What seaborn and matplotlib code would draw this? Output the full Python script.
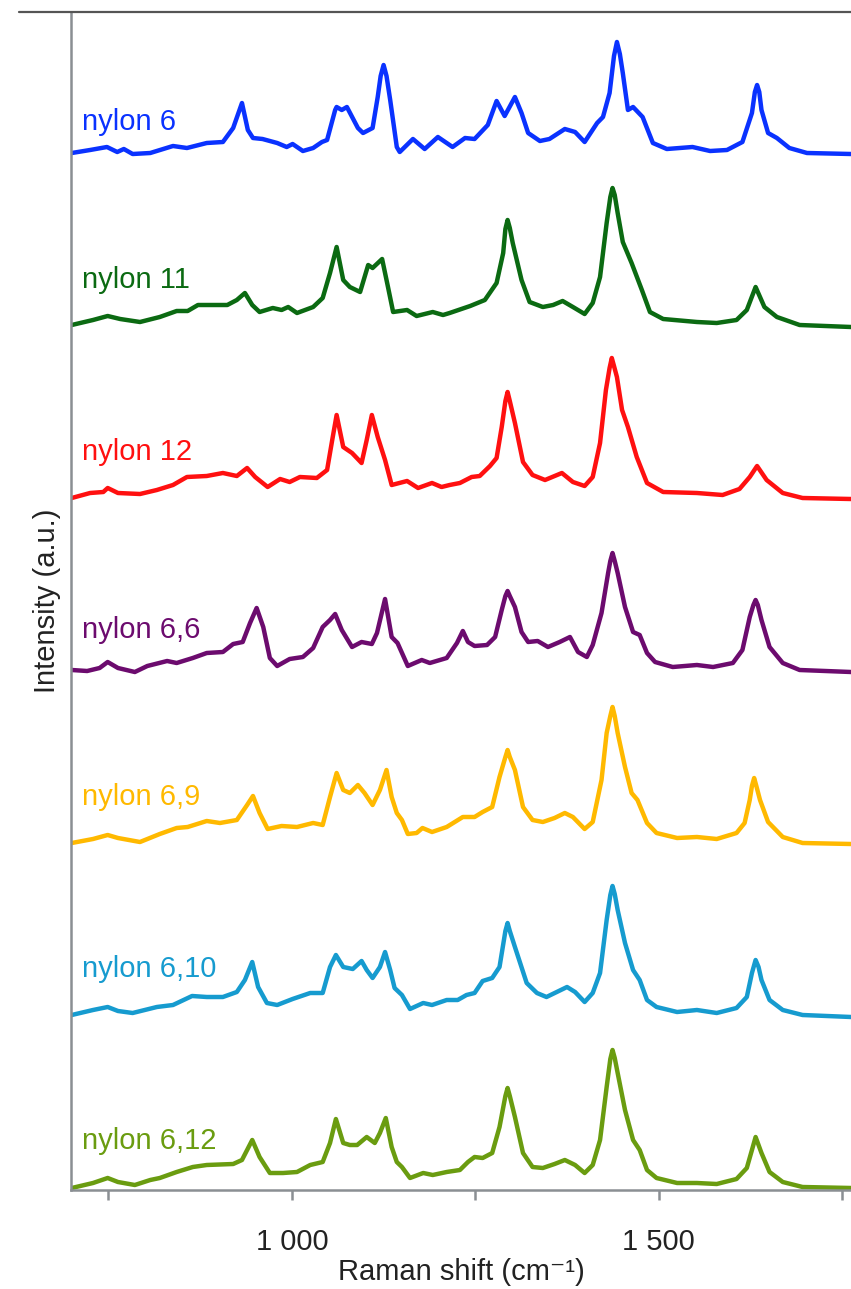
import matplotlib
matplotlib.use("Agg")
import matplotlib.pyplot as plt
from matplotlib.lines import Line2D
from matplotlib.ticker import FixedLocator, NullFormatter
import pandas as pd
import seaborn as sns

# Raman spectra (shift in cm-1, intensity in a.u.)
nylon6_shift = [700, 725, 748, 762, 771, 783, 807, 838, 857, 884, 906, 920, 932, 940, 947, 960,
                980, 993, 1001, 1015, 1029, 1041, 1048, 1059, 1061, 1068, 1075, 1090, 1097, 1110,
                1117, 1121, 1125, 1129, 1134, 1143, 1147, 1165, 1181, 1199, 1219, 1236, 1249, 1267,
                1279, 1290, 1304, 1313, 1322, 1338, 1351, 1372, 1386, 1399, 1416, 1424, 1433,
                1439, 1443, 1447, 1451, 1458, 1465, 1478, 1492, 1511, 1546, 1570, 1593, 1614,
                1627, 1631, 1634, 1637, 1640, 1649, 1661, 1678, 1702, 1762]
nylon6_int = [1, 4, 7, 2, 5, 0, 1, 8, 6, 11, 12, 26, 51, 24, 16, 15,
              11, 7, 10, 3, 6, 12, 14, 44, 47, 44, 47, 26, 21, 26,
              57, 78, 89, 78, 54, 7, 2, 15, 5, 17, 7, 16, 15, 29,
              53, 38, 57, 41, 21, 13, 15, 25, 22, 12, 31, 37, 61,
              98, 112, 100, 81, 44, 47, 37, 11, 5, 7, 3, 4, 12,
              41, 62, 69, 62, 44, 21, 16, 6, 1, 0]

nylon11_shift = [700, 729, 749, 766, 793, 820, 843, 858, 872, 912, 925, 936, 946, 956, 974, 986,
                 995, 1007, 1029, 1042, 1052, 1061, 1070, 1079, 1093, 1104, 1110, 1123, 1131,
                 1138, 1157, 1170, 1192, 1206, 1215, 1243, 1263, 1279, 1288, 1291, 1294, 1297,
                 1301, 1313, 1324, 1342, 1356, 1369, 1383, 1399, 1410, 1420, 1429, 1434, 1437,
                 1440, 1444, 1451, 1463, 1477, 1488, 1506, 1552, 1579, 1606, 1620, 1632, 1644,
                 1661, 1692, 1762]
nylon11_int = [2, 7, 11, 8, 5, 10, 16, 16, 22, 22, 27, 34, 22, 15, 19, 17,
               20, 14, 20, 29, 54, 80, 47, 40, 35, 62, 59, 68, 40,
               15, 17, 11, 15, 12, 14, 21, 27, 44, 74, 98, 107, 99,
               84, 47, 25, 20, 22, 26, 20, 13, 24, 50, 104, 130, 139,
               132, 114, 85, 64, 37, 15, 8, 5, 4, 7, 17, 40, 20,
               10, 2, 0]

nylon12_shift = [700, 725, 743, 749, 763, 793, 816, 838, 857, 884, 906, 925, 939, 950, 967, 984,
                 997, 1011, 1034, 1048, 1055, 1061, 1070, 1082, 1095, 1102, 1109, 1117, 1127,
                 1136, 1157, 1172, 1191, 1204, 1215, 1229, 1245, 1256, 1270, 1279, 1286, 1291,
                 1294, 1297, 1304, 1315, 1328, 1345, 1368, 1383, 1399, 1410, 1420, 1428, 1433,
                 1436, 1439, 1443, 1450, 1458, 1470, 1484, 1506, 1552, 1587, 1610, 1624, 1634,
                 1647, 1669, 1696, 1762]
nylon12_int = [1, 6, 7, 11, 6, 5, 9, 14, 22, 23, 26, 23, 31, 22, 12, 20,
               17, 22, 21, 29, 59, 84, 52, 46, 36, 59, 84, 62, 39,
               14, 18, 11, 16, 12, 14, 16, 22, 23, 33, 41, 72, 98,
               107, 98, 76, 37, 24, 19, 26, 17, 13, 22, 56, 109, 131,
               141, 133, 122, 89, 72, 42, 16, 7, 6, 4, 10, 22, 33,
               19, 6, 1, 0]

nylon66_shift = [700, 721, 738, 749, 763, 786, 803, 830, 843, 865, 884, 906, 920, 933, 943, 952,
                 961, 970, 980, 997, 1015, 1029, 1042, 1052, 1059, 1068, 1082, 1095, 1109, 1116,
                 1127, 1136, 1144, 1158, 1177, 1188, 1211, 1225, 1233, 1240, 1249, 1266, 1277,
                 1286, 1291, 1294, 1297, 1304, 1313, 1322, 1335, 1349, 1365, 1379, 1390, 1402,
                 1410, 1422, 1431, 1434, 1437, 1440, 1444, 1454, 1465, 1474, 1484, 1495, 1519,
                 1552, 1574, 1601, 1614, 1624, 1629, 1632, 1635, 1640, 1651, 1669, 1692, 1762]
nylon66_int = [2, 1, 4, 10, 4, 0, 6, 11, 9, 14, 19, 20, 28, 30, 49, 64,
               45, 14, 6, 13, 15, 24, 45, 52, 58, 42, 25, 30, 28, 39,
               73, 35, 29, 6, 12, 9, 14, 29, 41, 30, 26, 27, 35,
               62, 76, 81, 76, 65, 40, 30, 31, 25, 30, 35, 20, 15,
               27, 59, 99, 111, 119, 111, 99, 65, 40, 37, 19, 10, 5,
               7, 5, 9, 22, 55, 67, 72, 67, 52, 25, 9, 2, 0]

nylon69_shift = [700, 729, 749, 763, 793, 820, 843, 858, 884, 902, 925, 939, 947, 956, 967, 986,
                 1007, 1029, 1042, 1052, 1061, 1070, 1079, 1090, 1099, 1110, 1120, 1129, 1136,
                 1143, 1150, 1158, 1170, 1178, 1191, 1211, 1233, 1249, 1260, 1273, 1283, 1291,
                 1294, 1297, 1304, 1315, 1328, 1342, 1358, 1372, 1383, 1399, 1410, 1422, 1429,
                 1434, 1437, 1440, 1444, 1454, 1463, 1471, 1484, 1497, 1525, 1552, 1579, 1606,
                 1617, 1624, 1627, 1630, 1633, 1638, 1649, 1669, 1696, 1762]
nylon69_int = [1, 5, 9, 6, 2, 10, 16, 17, 23, 21, 24, 39, 48, 31, 15, 18,
               17, 21, 19, 47, 71, 54, 51, 59, 51, 39, 54, 74, 47,
               31, 24, 10, 11, 16, 12, 17, 27, 27, 32, 37, 67, 87,
               94, 87, 74, 37, 24, 22, 26, 31, 27, 15, 22, 64, 111,
               128, 137, 128, 111, 77, 51, 44, 21, 11, 6, 7, 5, 11,
               21, 44, 58, 66, 58, 44, 22, 7, 1, 0]

nylon610_shift = [700, 729, 749, 763, 783, 816, 838, 864, 884, 906, 925, 936, 946, 954, 966, 980,
                  1001, 1025, 1042, 1052, 1060, 1070, 1083, 1095, 1102, 1110, 1120, 1127, 1134,
                  1140, 1150, 1161, 1179, 1191, 1211, 1226, 1238, 1249, 1260, 1273, 1283, 1291,
                  1294, 1297, 1304, 1320, 1334, 1347, 1361, 1375, 1386, 1399, 1410, 1420, 1429,
                  1434, 1437, 1440, 1444, 1454, 1465, 1474, 1484, 1497, 1525, 1552, 1579, 1606,
                  1620, 1627, 1632, 1636, 1640, 1651, 1669, 1696, 1762]
nylon610_int = [2, 7, 10, 6, 4, 10, 12, 21, 20, 20, 25, 37, 55, 30, 14, 12,
                18, 24, 24, 50, 62, 50, 48, 56, 47, 39, 50, 65, 47,
                29, 22, 8, 14, 12, 17, 17, 22, 24, 36, 39, 50, 86,
                94, 86, 70, 34, 24, 20, 25, 30, 25, 15, 24, 44, 97,
                122, 131, 123, 107, 74, 47, 37, 17, 10, 5, 7, 4, 9,
                20, 44, 57, 50, 37, 17, 7, 2, 0]

nylon612_shift = [700, 729, 749, 763, 786, 807, 820, 843, 865, 884, 920, 932, 939, 946, 956, 970,
                  988, 1007, 1025, 1042, 1052, 1060, 1070, 1079, 1089, 1102, 1113, 1120, 1128,
                  1136, 1143, 1150, 1161, 1179, 1192, 1211, 1229, 1240, 1249, 1260, 1273, 1283,
                  1291, 1294, 1297, 1304, 1315, 1328, 1342, 1358, 1372, 1386, 1399, 1410, 1420,
                  1429, 1434, 1437, 1440, 1444, 1454, 1465, 1474, 1484, 1497, 1525, 1552, 1579,
                  1606, 1620, 1627, 1632, 1640, 1651, 1669, 1696, 1762]
nylon612_int = [0, 5, 10, 6, 3, 8, 10, 16, 21, 23, 24, 28, 38, 48, 31, 15,
                15, 16, 23, 26, 45, 69, 45, 43, 43, 51, 45, 55, 70,
                41, 26, 21, 10, 15, 13, 16, 18, 26, 31, 30, 35, 61,
                92, 100, 92, 71, 35, 21, 20, 24, 28, 23, 15, 23, 48,
                101, 129, 138, 130, 115, 78, 48, 38, 18, 10, 5, 5, 4,
                9, 20, 38, 51, 35, 16, 6, 1, 0]

names = ["nylon 6", "nylon 11", "nylon 12", "nylon 6,6", "nylon 6,9", "nylon 6,10", "nylon 6,12"]
colors = ["#0a32ff", "#0b6a12", "#ff1010", "#6c0b6e", "#ffb900", "#169bcf", "#6a9c10"]
offsets = [1036, 863, 691, 518, 346, 173, 2]
label_lift = [24, 39, 39, 34, 39, 40, 39]

shifts = [nylon6_shift, nylon11_shift, nylon12_shift, nylon66_shift,
          nylon69_shift, nylon610_shift, nylon612_shift]
intensities = [nylon6_int, nylon11_int, nylon12_int, nylon66_int,
               nylon69_int, nylon610_int, nylon612_int]

sns.set_style("white")
plt.rcParams['font.family'] = ['Liberation Sans', 'DejaVu Sans']

W, H = 851, 1289
fig = plt.figure(figsize=(W / 100, H / 100), dpi=100)
ax = fig.add_axes([71 / W, 1 - 1190 / H, 1 - 71 / W, (1190 - 12) / H])

for name, color, off, lift, xs, ys in zip(names, colors, offsets, label_lift, shifts, intensities):
    df = pd.DataFrame({"shift": xs, "intensity": [v + off for v in ys]})
    sns.lineplot(data=df, x="shift", y="intensity", color=color, linewidth=3.2,
                 estimator=None, ax=ax, solid_joinstyle="round", solid_capstyle="round")
    ax.text(714, off + lift, name, color=color, fontsize=21, va="baseline", ha="left")

ax.set_xlim(699, 1762)
ax.set_ylim(0, 1178)
ax.set_yticks([])
ax.set_xticks([1000, 1500])
ax.set_xticklabels(["1 000", "1 500"])
ax.xaxis.set_minor_locator(FixedLocator([750, 1250, 1750]))
ax.xaxis.set_minor_formatter(NullFormatter())
ax.tick_params(axis="x", which="both", direction="out", length=7, width=1.8,
               color="#8a8f93", labelsize=21, labelcolor="#222222", pad=20, bottom=True)

ax.set_xlabel("Raman shift (cm\u207b\u00b9)", fontsize=21, color="#222222", labelpad=2)
ax.set_ylabel("Intensity (a.u.)", fontsize=21, color="#222222", labelpad=7)

for side in ["top", "right"]:
    ax.spines[side].set_visible(False)
for side in ["left", "bottom"]:
    ax.spines[side].set_color("#8a8f93")
    ax.spines[side].set_linewidth(1.8)

# dark rule across the top of the panel
fig.add_artist(Line2D([19 / W, 1.0], [1 - 12 / H, 1 - 12 / H], transform=fig.transFigure,
                      color="#555555", linewidth=1.6))

fig.savefig("out.png", dpi=100)
